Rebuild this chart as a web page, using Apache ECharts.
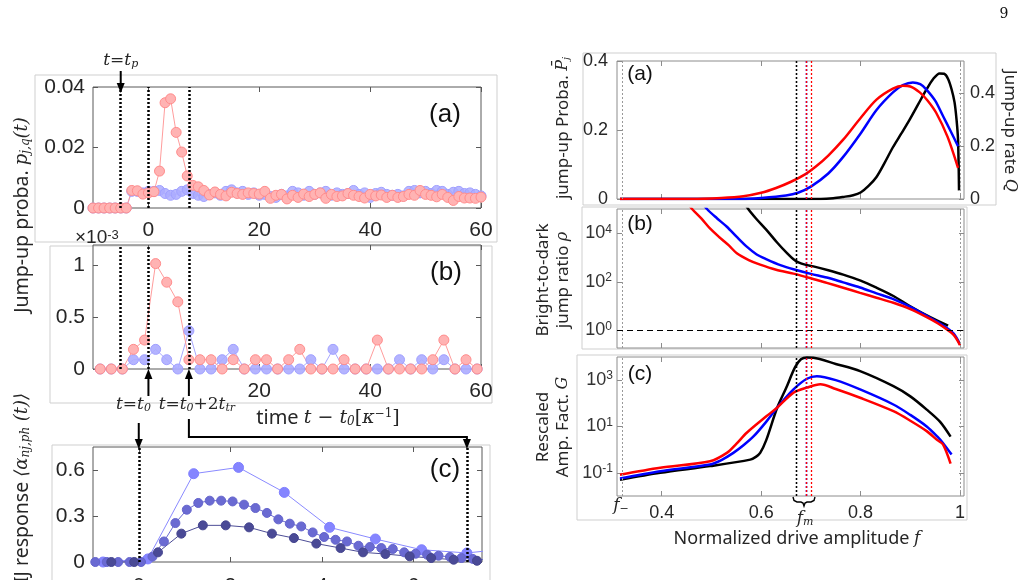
<!DOCTYPE html>
<html>
<head>
<meta charset="utf-8">
<script src="https://cdn.jsdelivr.net/npm/echarts@6/dist/echarts.min.js"></script>
<style>
html, body { margin: 0; padding: 0; background: #fff; }
#chart { width: 1027px; height: 580px; }
</style>
</head>
<body>
<div id="chart"></div>
<script>
// ---- left (a): jump-up probability per time step
const timeA = [-10,-9,-8,-7,-6,-5,-4,-3,-2,-1,0,1,2,3,4,5,6,7,8,9,10,11,12,13,14,15,16,17,18,19,20,
  21,22,23,24,25,26,27,28,29,30,31,32,33,34,35,36,37,38,39,40,41,42,43,44,45,46,47,48,49,50,
  51,52,53,54,55,56,57,58,59,60];
const pinkA = [0,0,0,0,0,0,0,0.0058,0.0057,0.0046,0.005,0.0054,0.0122,0.0348,0.0361,0.025,0.0185,0.0106,0.0075,0.007,0.0058,
  0.0043,0.0053,0.0045,0.004,0.0052,0.0048,0.0045,0.005,0.0048,0.0046,0.0055,0.0032,0.0042,0.0045,0.003,0.0042,0.0035,0.0046,0.0038,0.0045,
  0.005,0.0032,0.0045,0.0038,0.004,0.0048,0.0042,0.0038,0.0033,0.0045,0.004,0.0043,0.0035,0.0042,0.0035,0.0038,0.0045,0.0042,0.0058,0.0045,
  0.0042,0.0037,0.0045,0.0035,0.0025,0.0038,0.0033,0.0033,0.0032,0.0036];
const blueA = [0,0,0,0,0,0,0,0.0055,0.0055,0.005,0.0055,0.0055,0.0058,0.0048,0.0042,0.0045,0.0055,0.006,0.0048,0.0042,0.0038,
  0.0045,0.005,0.0042,0.0055,0.006,0.005,0.0055,0.0045,0.005,0.0042,0.0045,0.0038,0.0035,0.0045,0.004,0.0055,0.005,0.0042,0.0055,0.0045,
  0.005,0.0055,0.0042,0.005,0.0045,0.0048,0.0058,0.0045,0.005,0.0035,0.0048,0.0052,0.0045,0.0042,0.0045,0.004,0.0055,0.0058,0.005,0.0055,
  0.0048,0.0058,0.0055,0.0045,0.0052,0.0055,0.0048,0.005,0.0045,0.004];

// ---- left (b): jump-up rate, units of 1e-3
const timeB = [-8.7,-6.7,-4.7,-2.7,-0.7,1.3,3.3,5.3,7.3,9.3,11.3,13.3,15.3,17.3,19.3,21.3,23.3,25.3,27.3,29.3,
  31.3,33.3,35.3,37.3,39.3,41.3,43.3,45.3,47.3,49.3,51.3,53.3,55.3,57.3,59.3];
const pinkB = [0,0,0,0.19,0.28,1.02,0.84,0.65,0.09,0.09,0.09,0,0.09,0,0.09,0.09,0,0.09,0.19,0,
  0,0,0.09,0,0,0.28,0,0,0,0,0.09,0.28,0,0.09,0];
const blueB = [0,0,0,0.09,0.09,0.19,0.09,0,0.37,0,0,0.09,0.19,0,0,0,0,0,0,0.09,
  0,0.19,0,0,0,0,0,0.09,0,0.09,0,0.09,0,0,0];

// ---- left (c): response
const timeLight = [-1.78,-0.78,0.2,1.2,2.18,3.18,4.17,5.17,6.18,7.17,8.17];
const respLight = [0,0,0.02,0.576,0.617,0.454,0.226,0.15,0.08,0.059,0.09];
const timeMid = [-0.95,-0.7,-0.45,-0.2,0.05,0.3,0.55,0.8,1.05,1.3,1.55,1.8,2.05,2.3,2.55,2.8,3.05,3.3,3.55,3.8,
  4.05,4.3,4.55,4.8,5.05,5.3,5.55,5.8,6.05,6.3,6.55,6.8,7.05,7.3,7.55];
const respMid = [0,0,0,0,0,0.035,0.134,0.254,0.341,0.385,0.4,0.4,0.395,0.374,0.352,0.32,0.278,0.25,0.232,0.193,
  0.163,0.145,0.134,0.106,0.098,0.091,0.085,0.063,0.054,0.048,0.041,0.033,0.026,0.02,0.015];
const timeDark = [-0.6,-0.1,0.42,0.93,1.4,1.9,2.41,2.91,3.39,3.88,4.41,4.9,5.39,5.92,6.39,6.88,7.39];
const respDark = [0,0,0.063,0.185,0.239,0.239,0.226,0.185,0.156,0.12,0.091,0.063,0.052,0.037,0.026,0.015,0.008];

// ---- right (a): jump-up probability vs drive
const fBlackA = [0.316,0.6,0.72,0.745,0.765,0.785,0.8,0.816,0.832,0.848,0.865,0.882,0.899,0.916,0.932,0.946,0.959,0.968,0.976,0.983,0.989,0.993,0.996,0.998];
const pBlackA = [0,0,0,0.002,0.006,0.011,0.019,0.038,0.064,0.104,0.15,0.19,0.231,0.275,0.316,0.348,0.364,0.363,0.348,0.318,0.28,0.23,0.172,0.025];
const fBlueA = [0.316,0.56,0.6,0.65,0.674,0.7,0.735,0.765,0.8,0.832,0.865,0.885,0.905,0.92,0.932,0.95,0.966,0.98,0.996];
const pBlueA = [0,0,0.003,0.01,0.018,0.036,0.074,0.122,0.19,0.258,0.309,0.33,0.338,0.333,0.318,0.285,0.24,0.2,0.153];
const fRedA = [0.316,0.46,0.52,0.564,0.6,0.63,0.66,0.69,0.71,0.735,0.765,0.8,0.832,0.865,0.885,0.9,0.919,0.935,0.952,0.975,0.996];
const pRedA = [0,0,0.003,0.008,0.018,0.032,0.05,0.073,0.094,0.126,0.172,0.235,0.288,0.32,0.328,0.326,0.309,0.285,0.25,0.18,0.09];

// ---- right (b): log10 of bright-to-dark jump ratio
const fBlackB = [0.565,0.574,0.59,0.611,0.632,0.652,0.665,0.675,0.69,0.705,0.735,0.765,0.8,0.832,0.866,0.899,0.94,0.976];
const rhoBlackB = [5.3,5.0,4.6,4.13,3.62,3.18,2.93,2.8,2.7,2.64,2.48,2.3,2.05,1.76,1.42,1.01,0.55,0.2];
const fBlueB = [0.48,0.491,0.511,0.531,0.551,0.571,0.591,0.611,0.64,0.665,0.7,0.732,0.765,0.799,0.832,0.866,0.9,0.933,0.955,0.973,0.988,1.0];
const rhoBlueB = [5.3,5.0,4.62,4.27,3.85,3.45,3.13,2.93,2.68,2.52,2.33,2.18,1.98,1.77,1.53,1.29,0.97,0.6,0.35,0.11,-0.15,-0.57];
const fRedB = [0.45,0.461,0.48,0.497,0.518,0.535,0.551,0.575,0.598,0.63,0.665,0.7,0.732,0.765,0.799,0.832,0.866,0.9,0.933,0.955,0.973,0.988,1.0];
const rhoRedB = [5.3,5.0,4.6,4.2,3.8,3.5,3.18,2.9,2.71,2.5,2.34,2.15,1.96,1.76,1.55,1.35,1.14,0.88,0.55,0.3,0.05,-0.2,-0.6];

// ---- right (c): log10 of rescaled amplification factor
const fBlackC = [0.316,0.397,0.497,0.578,0.59,0.598,0.61,0.632,0.65,0.668,0.68,0.692,0.705,0.75,0.799,0.866,0.9,0.933,0.96,0.981];
const gBlackC = [-1.3,-1.0,-0.71,-0.43,-0.3,-0.14,0.4,1.8,2.65,3.55,3.9,3.98,3.97,3.7,3.39,2.74,2.3,1.73,1.2,0.56];
const fBlueC = [0.316,0.397,0.497,0.52,0.544,0.565,0.585,0.61,0.632,0.665,0.692,0.712,0.75,0.799,0.866,0.9,0.933,0.955,0.966,0.983];
const gBlueC = [-1.24,-0.93,-0.64,-0.45,-0.14,0.2,0.58,1.2,1.81,2.6,3.06,3.17,3.0,2.6,1.95,1.5,1.0,0.55,0.28,-0.21];
const fRedC = [0.316,0.397,0.497,0.531,0.55,0.571,0.611,0.632,0.665,0.692,0.719,0.75,0.799,0.866,0.9,0.933,0.955,0.966,0.981];
const gRedC = [-1.08,-0.78,-0.5,-0.14,0.25,0.73,1.45,1.81,2.46,2.68,2.82,2.62,2.24,1.66,1.25,0.8,0.4,0.22,-0.6];

// tick positions
const ticksTime = [0, 20, 40, 60];
const ticksResp = [0, 2, 4, 6];
const ticksDrive = [0.4, 0.6, 0.8, 1];
const markTimes = [-5, 0, 7.3];
const markTimesC = [0, 7.17];

const zip = (xs, ys) => xs.map((x, i) => [x, ys[i]]);

const chart = echarts.init(document.getElementById('chart'));

const colL = '#595959';
const colR = '#8c8c8c';
const tickFont = 'Liberation Sans';

function xAx(grid, min, max, ticks, labels, color, pos, margin, fontSize) {
    return {
        type: 'value', gridIndex: grid, min: min, max: max, position: pos,
        axisLine: { show: false, onZero: false }, splitLine: { show: false },
        axisTick: { show: true, inside: true, length: 5, customValues: ticks, lineStyle: { color: color } },
        axisLabel: labels ? {
            show: true, customValues: labels, margin: margin, fontSize: fontSize,
            fontFamily: tickFont, color: '#262626'
        } : { show: false }
    };
}
function yAx(grid, min, max, ticks, labels, color, pos, margin, fontSize) {
    return xAx(grid, min, max, ticks, labels, color, pos, margin, fontSize);
}

const logLabel = {
    formatter: v => '{b|10}{s|' + v + '}',
    rich: {
        b: { fontSize: 18, fontFamily: tickFont, color: '#333', lineHeight: 20 },
        s: { fontSize: 12, fontFamily: tickFont, color: '#333', lineHeight: 12, verticalAlign: 'top' }
    }
};

function vMarks(list) {
    return {
        silent: true, symbol: ['none', 'none'], animation: false,
        label: { show: false },
        lineStyle: { color: '#000', width: 2.5, type: [2, 2] },
        data: list.map(m => ({ xAxis: m.x, lineStyle: { color: m.c, width: m.w, type: [2, 2] } }))
    };
}
const rightMarks = vMarks([
    { x: 0.316, c: '#999', w: 1 }, { x: 0.3195, c: '#999', w: 1 },
    { x: 0.9955, c: '#999', w: 1 }, { x: 0.9985, c: '#999', w: 1 },
    { x: 0.669, c: '#000', w: 1.3 }, { x: 0.673, c: '#000', w: 1.3 },
    { x: 0.685, c: '#0000ff', w: 1.3 }, { x: 0.689, c: '#0000ff', w: 1.3 },
    { x: 0.694, c: '#ff0000', w: 1.3 }, { x: 0.697, c: '#ff0000', w: 1.3 }
]);

function dots(xi, yi, data, fill, border, line, size, extra) {
    return Object.assign({
        type: 'line', xAxisIndex: xi, yAxisIndex: yi, data: data,
        symbol: 'circle', symbolSize: size,
        itemStyle: { color: fill, borderColor: border, borderWidth: 1 },
        lineStyle: { color: line, width: 1 },
        animation: false
    }, extra || {});
}
function curve(xi, yi, data, color, extra) {
    return Object.assign({
        type: 'line', xAxisIndex: xi, yAxisIndex: yi, data: data,
        showSymbol: false, smooth: 0.3,
        lineStyle: { color: color, width: 2.5 },
        animation: false
    }, extra || {});
}

const gridL = { show: true, borderColor: colL, borderWidth: 1, outerBoundsMode: 'none', containLabel: false };
const gridR = { show: true, borderColor: colR, borderWidth: 1, outerBoundsMode: 'none', containLabel: false };

const option = {
    animation: false,
    backgroundColor: '#fff',
    grid: [
        Object.assign({ left: 93, top: 87, width: 388, height: 121 }, gridL),
        Object.assign({ left: 93, top: 245, width: 388, height: 124 }, gridL),
        Object.assign({ left: 93, top: 447, width: 389, height: 115 }, gridL),
        Object.assign({ left: 617, top: 61, width: 347, height: 138 }, gridR),
        Object.assign({ left: 617, top: 209, width: 347, height: 139 }, gridR),
        Object.assign({ left: 617, top: 357, width: 347, height: 139 }, gridR)
    ],
    xAxis: [
        xAx(0, -10, 60, ticksTime, ticksTime, colL, 'bottom', 12, 21),
        xAx(1, -10, 60, ticksTime, [20, 40, 60], colL, 'bottom', 12, 21),
        xAx(2, -1, 7.5, ticksResp, ticksResp, colL, 'bottom', 14, 21),
        xAx(3, 0.31, 1.008, ticksDrive, null, colR, 'bottom'),
        xAx(4, 0.31, 1.008, ticksDrive, null, colR, 'bottom'),
        xAx(5, 0.31, 1.008, ticksDrive, ticksDrive, colR, 'bottom', 8, 18),
        xAx(0, -10, 60, ticksTime, null, colL, 'top'),
        xAx(1, -10, 60, ticksTime, null, colL, 'top'),
        xAx(2, -1, 7.5, ticksResp, null, colL, 'top'),
        xAx(3, 0.31, 1.008, ticksDrive, null, colR, 'top'),
        xAx(4, 0.31, 1.008, ticksDrive, null, colR, 'top'),
        xAx(5, 0.31, 1.008, ticksDrive, null, colR, 'top')
    ],
    yAxis: [
        yAx(0, 0, 0.04, [0, 0.02, 0.04], [0, 0.02, 0.04], colL, 'left', 8, 21),
        yAx(1, 0, 1.2, [0, 0.5, 1], [0, 0.5, 1], colL, 'left', 8, 21),
        yAx(2, 0, 0.75, [0, 0.3, 0.6], [0, 0.3, 0.6], colL, 'left', 8, 21),
        yAx(3, 0, 0.4, [0, 0.2, 0.4], [0, 0.2, 0.4], colR, 'left', 9, 18),
        yAx(4, -0.72, 5, [0, 2, 4], [0, 2, 4], colR, 'left', 5, 18),
        yAx(5, -2, 4, [-1, 1, 3], [-1, 1, 3], colR, 'left', 4, 18),
        yAx(0, 0, 0.04, [0, 0.02, 0.04], null, colL, 'right'),
        yAx(1, 0, 1.2, [0, 0.5, 1], null, colL, 'right'),
        yAx(2, 0, 0.75, [0, 0.3, 0.6], null, colL, 'right'),
        yAx(4, -0.72, 5, [0, 2, 4], null, colR, 'right'),
        yAx(5, -2, 4, [-1, 1, 3], null, colR, 'right'),
        yAx(3, 0, 0.523, [0, 0.2, 0.4], [0, 0.2, 0.4], colR, 'right', 6, 18)
    ],
    series: [
        // left (a)
        dots(0, 0, zip(timeA, blueA), 'rgba(172,172,255,0.85)', '#a0a0ff', '#a8a8ff', 10, {
            markLine: vMarks(markTimes.map(x => ({ x: x, c: '#000', w: 2.5 })))
        }),
        dots(0, 0, zip(timeA, pinkA), '#ffb3b3', '#ff8c8c', '#ff9c9c', 10),
        // left (b)
        dots(1, 1, zip(timeB, blueB), 'rgba(172,172,255,0.9)', '#a0a0ff', '#a8a8ff', 10, {
            markLine: vMarks(markTimes.map(x => ({ x: x, c: '#000', w: 2.5 })))
        }),
        dots(1, 1, zip(timeB, pinkB), '#ffb3b3', '#ff8c8c', '#ff9c9c', 10),
        // left (c)
        dots(2, 2, zip(timeLight, respLight), '#8585ff', '#8080ff', '#8a8aff', 10, {
            markLine: vMarks(markTimesC.map(x => ({ x: x, c: '#000', w: 2.5 })))
        }),
        dots(2, 2, zip(timeMid, respMid), '#6a6ad2', '#6464cc', '#6a6ad0', 9),
        dots(2, 2, zip(timeDark, respDark), '#4a4a96', '#45458f', '#4d4d96', 9),
        // right (a)
        curve(3, 3, zip(fBlackA, pBlackA), '#000', { markLine: rightMarks }),
        curve(3, 3, zip(fBlueA, pBlueA), '#0000ff'),
        curve(3, 3, zip(fRedA, pRedA), '#ff0000'),
        // right (b)
        curve(4, 4, zip(fBlackB, rhoBlackB), '#000', {
            markLine: Object.assign({}, rightMarks, {
                data: rightMarks.data.concat([{ yAxis: 0, lineStyle: { color: '#000', width: 1.2, type: [6, 4] } }])
            })
        }),
        curve(4, 4, zip(fBlueB, rhoBlueB), '#0000ff'),
        curve(4, 4, zip(fRedB, rhoRedB), '#ff0000'),
        // right (c)
        curve(5, 5, zip(fBlackC, gBlackC), '#000', { markLine: rightMarks }),
        curve(5, 5, zip(fBlueC, gBlueC), '#0000ff'),
        curve(5, 5, zip(fRedC, gRedC), '#ff0000')
    ]
};
option.yAxis[4].axisLabel = Object.assign({}, option.yAxis[4].axisLabel, logLabel);
option.yAxis[5].axisLabel = Object.assign({}, option.yAxis[5].axisLabel, logLabel);

chart.setOption(option);

// ---- annotations placed from the axes
const px = (xi, v) => chart.convertToPixel({ xAxisIndex: xi }, v);
const xp = px(0, -5), xb0 = px(1, 0), xb1 = px(1, 7.3);
const xc0 = px(2, 0), xc1 = px(2, 7.17);

const ink = '#262626';
function mkRich(n, m) {
    const s = Math.round(m * 0.65);
    return {
        n: { fontFamily: 'Noto Sans', fontSize: n, fill: ink },
        m: { fontFamily: 'DejaVu Serif', fontStyle: 'italic', fontSize: m, fill: ink },
        r: { fontFamily: 'DejaVu Serif', fontSize: m, fill: ink },
        sub: { fontFamily: 'DejaVu Serif', fontStyle: 'italic', fontSize: s, fill: ink, verticalAlign: 'bottom' },
        sup: { fontFamily: 'DejaVu Serif', fontSize: s, fill: ink, verticalAlign: 'top' },
        t: { fontFamily: tickFont, fontSize: 19, fill: ink },
        ts: { fontFamily: tickFont, fontSize: 13, fill: ink, verticalAlign: 'top' }
    };
}
const rich = mkRich(18, 17);
const richBig = mkRich(19.5, 18);
const richTime = mkRich(20, 19);
const richRight = mkRich(17, 16);

function label(x, y, text, opts, r, align) {
    return Object.assign({
        type: 'text', x: x, y: y, z: 10,
        style: { text: text, rich: r || rich, align: align || 'center', verticalAlign: 'middle' }
    }, opts || {});
}
function frame(x1, y1, x2, y2) {
    return {
        type: 'rect', z: -1, silent: true,
        shape: { x: x1, y: y1, width: x2 - x1, height: y2 - y1 },
        style: { fill: null, stroke: '#cfcfcf', lineWidth: 1 }
    };
}
function arrowHead(x, y, dir) {
    return {
        type: 'polygon', z: 10,
        shape: { points: [[x - 4, y - 10 * dir], [x + 4, y - 10 * dir], [x, y]] },
        style: { fill: '#000' }
    };
}
function seg(points, w) {
    return { type: 'polyline', z: 10, shape: { points: points }, style: { stroke: '#000', lineWidth: w || 2, fill: null } };
}
const big = (x, y, t, size) => ({
    type: 'text', x: x, y: y, z: 10,
    style: { text: t, fontFamily: tickFont, fontSize: size, fill: '#111', align: 'center', verticalAlign: 'middle' }
});
const up = { rotation: Math.PI / 2 };

chart.setOption({
    graphic: [
        frame(35, 75, 497, 242),
        frame(50, 246, 492, 403),
        frame(52, 445, 490, 590),
        frame(583, 53, 996, 205),
        frame(582, 207, 967, 349),
        frame(577, 355, 967, 520),

        big(445, 115, '(a)', 26), big(446, 273, '(b)', 26), big(445, 470, '(c)', 26),
        big(640, 74, '(a)', 21), big(640, 224, '(b)', 21), big(640, 374, '(c)', 21),

        label(22, 215, '{n|Jump-up proba. }{m|p}{sub|j,q}{m|(t)}', up, richBig),
        label(22, 583, '{n|IJ response }{m|⟨α}{sub|nj,ph}{m| (t)⟩}', up, richBig, 'left'),
        label(75, 238, '{t|×10}{ts|-3}', null, rich, 'left'),
        label(xp, 61, '{m|t}{r|=}{m|t}{sub|p}'),
        label(xb0 - 15, 405, '{m|t}{r|=}{m|t}{sub|0}'),
        label(xb1 + 8, 405, '{m|t}{r|=}{m|t}{sub|0}{r|+2}{m|t}{sub|tr}'),
        label(328, 418, '{n|time }{m|t}{r| − }{m|t}{sub|0}{r|[}{m|κ}{sup|−1}{r|]}', null, richTime),

        seg([[xp, 71], [xp, 84]]), arrowHead(xp, 93, 1),
        seg([[xb0, 396], [xb0, 378]]), arrowHead(xb0, 369, -1),
        seg([[xb1, 396], [xb1, 378]]), arrowHead(xb1, 369, -1),
        seg([[xc0, 423], [xc0, 440]]), arrowHead(xc0, 449, 1),
        seg([[xb1, 419], [xb1, 437], [xc1, 437], [xc1, 440]]), arrowHead(xc1, 449, 1),

        label(563, 128, '{n|jump-up Proba. }{m|P̄}{sub|j}', up, richRight),
        label(543, 280, '{n|Bright-to-dark}', up, richRight),
        label(563, 280, '{n|jump ratio }{m|ρ}', up, richRight),
        label(543, 427, '{n|Rescaled}', up, richRight),
        label(563, 427, '{n|Amp. Fact. }{m|G}', up, richRight),
        label(1010, 131, '{n|Jump-up rate }{m|Q}', { rotation: -Math.PI / 2 }, richRight),
        label(621, 506, '{m|f}{sub|−}'),
        label(805, 519, '{m|f}{sub|m}'),
        seg([[793, 497], [794, 500.5], [797, 502], [801, 502], [803, 503], [804, 506], [805, 503],
             [807, 502], [811, 502], [814, 500.5], [815, 497]], 1.4),
        label(797, 539, '{n|Normalized drive amplitude }{m|f}'),
        {
            type: 'text', x: 1004, y: 14, z: 10,
            style: { text: '9', fontFamily: 'DejaVu Serif', fontSize: 14, fill: '#111', align: 'center', verticalAlign: 'middle' }
        }
    ]
});
</script>
</body>
</html>
